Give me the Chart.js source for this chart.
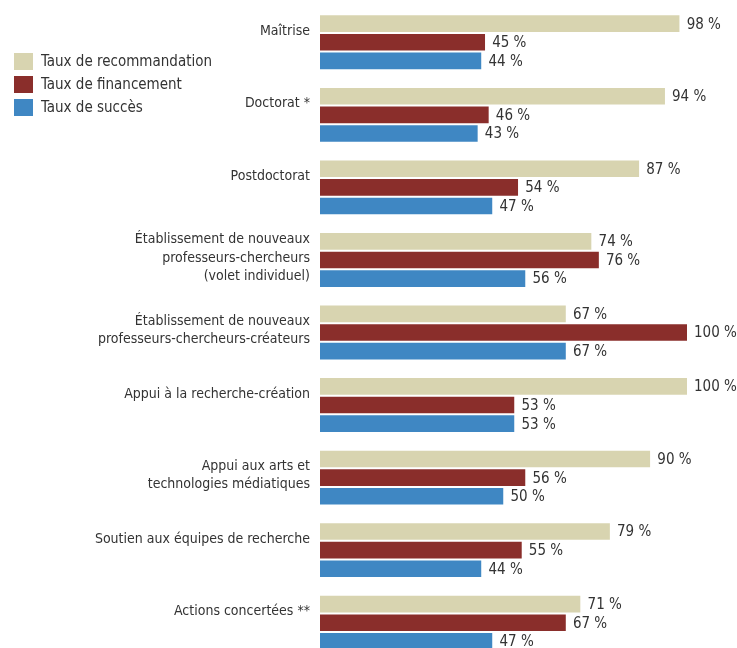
<!DOCTYPE html>
<html>
<head>
<meta charset="utf-8">
<script src="https://cdn.jsdelivr.net/npm/chart.js@4/dist/chart.umd.min.js"></script>
<style>
  html, body { margin: 0; padding: 0; background: #fff; overflow: hidden; }
  #wrap { width: 737px; height: 665px; }
</style>
</head>
<body>
<div id="wrap"><canvas id="chart"></canvas></div>
<script>
// categories (multi-line labels as arrays)
const categories = [
    "Maîtrise",
    "Doctorat *",
    "Postdoctorat",
    ["Établissement de nouveaux", "professeurs-chercheurs", "(volet individuel)"],
    ["Établissement de nouveaux", "professeurs-chercheurs-créateurs"],
    "Appui à la recherche-création",
    ["Appui aux arts et", "technologies médiatiques"],
    "Soutien aux équipes de recherche",
    "Actions concertées **"
];

const seriesNames = ["Taux de recommandation", "Taux de financement", "Taux de succès"];
const recommandation = [98, 94, 87, 74, 67, 100, 90, 79, 71];
const financement = [45, 46, 54, 76, 100, 53, 56, 55, 67];
const succes = [44, 43, 47, 56, 67, 53, 50, 44, 47];
const colors = ["#d8d4b0", "#8a2e2b", "#3f87c3"];

const FONT = "'Liberation Sans Narrow', 'DejaVu Sans Condensed', sans-serif";

// value labels after each bar
const valueLabels = {
    id: "valueLabels",
    afterDatasetsDraw(chart) {
        const ctx = chart.ctx;
        ctx.save();
        ctx.font = "15px " + FONT;
        ctx.fillStyle = "#333";
        ctx.textBaseline = "middle";
        ctx.textAlign = "left";
        chart.data.datasets.forEach(function (ds, i) {
            chart.getDatasetMeta(i).data.forEach(function (bar, j) {
                ctx.fillText(ds.data[j] + " %", bar.x + 7, bar.y + 1);
            });
        });
        ctx.restore();
    }
};

// legend drawn in the upper left corner
const cornerLegend = {
    id: "cornerLegend",
    afterDraw(chart) {
        const ctx = chart.ctx;
        ctx.save();
        ctx.font = "15px " + FONT;
        ctx.textBaseline = "middle";
        chart.data.datasets.forEach(function (ds, i) {
            const y = 53 + i * 23;
            ctx.fillStyle = ds.backgroundColor;
            ctx.fillRect(14, y, 19, 17);
            ctx.fillStyle = "#333";
            ctx.fillText(ds.label, 41, y + 9);
        });
        ctx.restore();
    }
};

const ctx = document.getElementById("chart").getContext("2d");
const chart = new Chart(ctx, {
    type: "bar",
    data: {
        labels: categories,
        datasets: [recommandation, financement, succes].map(function (d, i) {
            return {
                label: seriesNames[i],
                data: d,
                backgroundColor: colors[i],
                borderColor: "#ffffff",
                borderWidth: { top: 1, bottom: 1, left: 0, right: 0 },
                borderSkipped: false,
                categoryPercentage: 0.77,
                barPercentage: 1
            };
        })
    },
    options: {
        indexAxis: "y",
        responsive: true,
        maintainAspectRatio: false,
        animation: false,
        layout: { padding: { top: 6, bottom: 6, left: 0, right: 50 } },
        plugins: {
            legend: { display: false },
            tooltip: { enabled: false }
        },
        scales: {
            x: {
                display: false,
                min: 0,
                max: 100
            },
            y: {
                grid: { display: false, drawTicks: false },
                border: { display: false },
                ticks: {
                    color: "#333",
                    padding: 10,
                    labelOffset: -2,
                    font: { family: FONT, size: 14, lineHeight: 1.3 },
                    // single-line labels sit a bit higher than the group centre
                    callback: function (value) {
                        const l = this.getLabelForValue(value);
                        return Array.isArray(l) ? l : [l, ""];
                    }
                },
                afterFit(scale) {
                    scale.width = 320;
                    scale.paddingTop = 0;
                    scale.paddingBottom = 0;
                }
            }
        }
    },
    plugins: [valueLabels, cornerLegend]
});
</script>
</body>
</html>
